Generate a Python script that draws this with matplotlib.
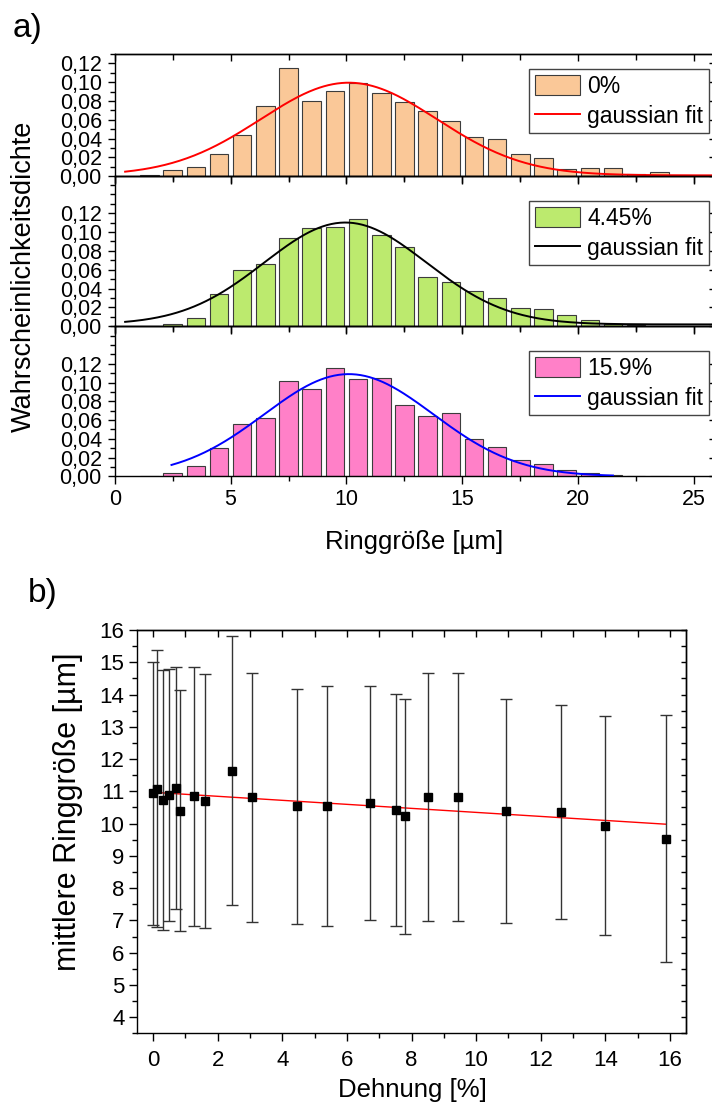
import numpy as np
import matplotlib
matplotlib.use("Agg")
import matplotlib.pyplot as plt
from matplotlib.ticker import MultipleLocator, FixedLocator

plt.rcParams['font.family'] = ['Liberation Sans', 'DejaVu Sans']

# ---------------- data: panel a (histograms) ----------------
bin_centers = [1.5, 2.5, 3.5, 4.5, 5.5, 6.5, 7.5, 8.5, 9.5, 10.5, 11.5, 12.5,
               13.5, 14.5, 15.5, 16.5, 17.5, 18.5, 19.5, 20.5, 21.5, 22.5, 23.5]
dens_0 = [0.001, 0.0067, 0.0100, 0.0233, 0.0436, 0.0746, 0.1150, 0.0796, 0.0909,
          0.0994, 0.0881, 0.0786, 0.0692, 0.0587, 0.0417, 0.0393, 0.0233, 0.0191,
          0.0074, 0.0085, 0.0085, 0.0028, 0.0049]
dens_445 = [0.0, 0.0022, 0.0092, 0.0347, 0.0594, 0.0658, 0.0934, 0.1037, 0.1050,
            0.1136, 0.0969, 0.0838, 0.0523, 0.0467, 0.0375, 0.0304, 0.0191, 0.0184,
            0.0117, 0.0071, 0.0028, 0.0010, 0.0]
dens_159 = [0.0, 0.0032, 0.0106, 0.0304, 0.0555, 0.0619, 0.1019, 0.0927, 0.1157,
            0.1033, 0.1051, 0.0757, 0.0640, 0.0675, 0.0393, 0.0314, 0.0170, 0.0127,
            0.0064, 0.0032, 0.0010, 0.0, 0.0]
hist_labels = ["0%", "4.45%", "15.9%"]

# gaussian fit parameters (y0, A, xc, w) and plotted x-ranges
fit_0 = dict(y0=0.001, A=0.0985, xc=10.1, w=3.8, xmin=0.45, xmax=25.8)
fit_445 = dict(y0=0.002, A=0.108, xc=9.95, w=3.5, xmin=0.45, xmax=25.8)
fit_159 = dict(y0=0.0, A=0.109, xc=10.1, w=3.65, xmin=2.45, xmax=21.5)

ytick_vals_a = [0.00, 0.02, 0.04, 0.06, 0.08, 0.10, 0.12]
ytick_labels_a = ["0,00", "0,02", "0,04", "0,06", "0,08", "0,10", "0,12"]
xtick_vals_a = [0, 5, 10, 15, 20, 25]

# ---------------- data: panel b ----------------
strain = [0, 0.12, 0.31, 0.48, 0.71, 0.835, 1.25, 1.62, 2.45, 3.07, 4.45, 5.38,
          6.72, 7.53, 7.81, 8.51, 9.44, 10.94, 12.62, 14.0, 15.89]
mean_size = [10.94, 11.08, 10.72, 10.88, 11.10, 10.40, 10.84, 10.70, 11.64, 10.81,
             10.53, 10.55, 10.63, 10.42, 10.22, 10.83, 10.83, 10.40, 10.37, 9.94, 9.53]
size_err = [4.08, 4.30, 4.03, 3.91, 3.76, 3.73, 4.00, 3.95, 4.16, 3.85, 3.64, 3.72,
            3.62, 3.60, 3.63, 3.85, 3.85, 3.47, 3.32, 3.39, 3.83]
lin_intercept = 10.97
lin_slope = -0.0623

# ---------------- figure ----------------
W, H = 712, 1115
fig = plt.figure(figsize=(W / 100, H / 100), dpi=100)

def rect(left, top, right, bottom):
    return [left / W, 1 - bottom / H, (right - left) / W, (bottom - top) / H]

TLY = 15.5
TLX = 15.5
LW = 1.0

def gauss(p, x):
    return p['y0'] + p['A'] * np.exp(-(x - p['xc']) ** 2 / (2 * p['w'] ** 2))

panels = [
    (rect(114.7, 54, 712.7, 176.3), 0.13, dens_0, '#FAC898', fit_0, '#FF0000', (709, 69)),
    (rect(114.7, 176.3, 712.7, 326.3), 0.159, dens_445, '#BCEA6E', fit_445, '#000000', (709, 201)),
    (rect(114.7, 326.3, 712.7, 476.3), 0.16, dens_159, '#FF80C8', fit_159, '#0000FF', (709, 351)),
]

for i, (r, ymax, dens, col, fit, fcol, lpos) in enumerate(panels):
    ax = fig.add_axes(r)
    ax.patch.set_alpha(0)
    bars = ax.bar(bin_centers, dens, width=0.8, color=col, edgecolor='#3c3c3c',
                  linewidth=0.8, zorder=2)
    xf = np.linspace(fit['xmin'], fit['xmax'], 400)
    line, = ax.plot(xf, gauss(fit, xf), color=fcol, lw=1.4, zorder=3)
    ax.set_xlim(0, 25.8)
    ax.set_ylim(0, ymax)
    ax.yaxis.set_major_locator(FixedLocator(ytick_vals_a))
    ax.set_yticklabels(ytick_labels_a)
    ax.yaxis.set_minor_locator(MultipleLocator(0.01))
    ax.xaxis.set_major_locator(FixedLocator(xtick_vals_a))
    ax.xaxis.set_minor_locator(MultipleLocator(2.5))
    ax.tick_params(axis='y', which='major', direction='out', length=5.3, width=LW,
                   labelsize=TLY, pad=4.0, right=False)
    ax.tick_params(axis='y', which='minor', direction='out', length=3.3, width=LW, right=False)
    ax.tick_params(axis='x', which='major', direction='out', length=5.5, width=LW,
                   labelsize=TLX, pad=3.5, top=False)
    ax.tick_params(axis='x', which='minor', direction='out', length=3.5, width=LW, top=False)
    if i < 2:
        ax.tick_params(axis='x', labelbottom=False)
    for s in ax.spines.values():
        s.set_linewidth(LW)
    secx = ax.secondary_xaxis('top')
    secx.xaxis.set_major_locator(FixedLocator(xtick_vals_a))
    secx.xaxis.set_minor_locator(MultipleLocator(2.5))
    secx.tick_params(which='major', direction='in', length=5, width=LW, labeltop=False)
    secx.tick_params(which='minor', direction='in', length=4, width=LW)
    secx.spines['top'].set_linewidth(LW)
    secy = ax.secondary_yaxis('right')
    secy.yaxis.set_major_locator(FixedLocator(ytick_vals_a))
    secy.tick_params(which='major', direction='in', length=3, width=LW, labelright=False)
    secy.spines['right'].set_linewidth(LW)
    leg = ax.legend([bars, line], [hist_labels[i], 'gaussian fit'], loc='upper right',
                    bbox_to_anchor=(lpos[0] / W, 1 - lpos[1] / H),
                    bbox_transform=fig.transFigure, fontsize=16.5, frameon=True,
                    fancybox=False, edgecolor='#444444', framealpha=1,
                    borderpad=0.25, handlelength=2.0, handleheight=0.95,
                    handletextpad=0.3, labelspacing=0.3, borderaxespad=0)
    leg.get_frame().set_linewidth(1.0)

fig.text(13 / W, 1 - 37 / H, 'a)', fontsize=24, va='baseline', ha='left')
fig.text(24 / W, 1 - 276 / H, 'Wahrscheinlichkeitsdichte', fontsize=19.5, rotation=90,
         ha='center', va='center')
fig.text(414 / W, 1 - 549 / H, 'Ringgröße [µm]', fontsize=18.5, ha='center', va='baseline')

# ---------------- panel b ----------------
axb = fig.add_axes(rect(137, 630, 686, 1033.3))
xs = np.array([min(strain), max(strain)])
axb.plot(xs, lin_intercept + lin_slope * xs, color='#FF0000', lw=1.0, zorder=2)
axb.errorbar(strain, mean_size, yerr=size_err, fmt='none', ecolor='#333333',
             elinewidth=1.0, capsize=4.2, capthick=1.0, zorder=3)
axb.plot(strain, mean_size, 's', color='black', ms=6, zorder=4)
axb.set_xlim(-0.5, 16.5)
axb.set_ylim(3.5, 16)
axb.xaxis.set_major_locator(MultipleLocator(2))
axb.xaxis.set_minor_locator(MultipleLocator(1))
axb.yaxis.set_major_locator(MultipleLocator(1))
axb.yaxis.set_minor_locator(MultipleLocator(0.5))
axb.tick_params(axis='both', which='major', direction='out', length=6, width=LW,
                labelsize=16, top=False, right=False)
axb.tick_params(axis='both', which='minor', direction='out', length=3.3, width=LW,
                top=False, right=False)
axb.tick_params(axis='x', which='major', pad=6)
axb.tick_params(axis='y', which='major', pad=3)
for s in axb.spines.values():
    s.set_linewidth(LW)
sbx = axb.secondary_xaxis('top')
sbx.xaxis.set_major_locator(MultipleLocator(2))
sbx.xaxis.set_minor_locator(MultipleLocator(1))
sbx.tick_params(which='both', direction='in', length=5, width=LW, labeltop=False)
sbx.spines['top'].set_linewidth(LW)
sby = axb.secondary_yaxis('right')
sby.yaxis.set_major_locator(MultipleLocator(1))
sby.yaxis.set_minor_locator(MultipleLocator(0.5))
sby.tick_params(which='both', direction='in', length=3.5, width=LW, labelright=False)
sby.spines['right'].set_linewidth(LW)

fig.text(28 / W, 1 - 602 / H, 'b)', fontsize=24, va='baseline', ha='left')
fig.text(68 / W, 1 - 812 / H, 'mittlere Ringgröße [µm]', fontsize=22, rotation=90,
         ha='center', va='center')
fig.text(412 / W, 1 - 1097 / H, 'Dehnung [%]', fontsize=18.5, ha='center', va='baseline')

fig.savefig('out.png', dpi=100)
